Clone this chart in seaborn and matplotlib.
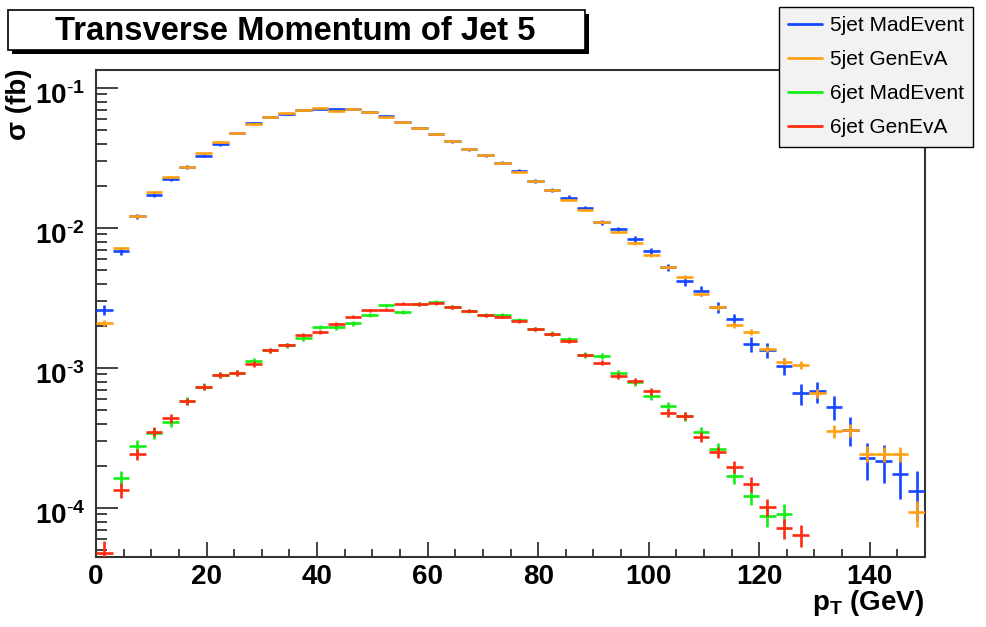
import numpy as np
import pandas as pd
import matplotlib
matplotlib.use("Agg")
import matplotlib.pyplot as plt
import matplotlib.transforms as mtransforms
import seaborn as sns
from matplotlib.lines import Line2D
from matplotlib.patches import Rectangle
from matplotlib.ticker import FixedLocator, LogLocator, FuncFormatter, MultipleLocator, NullFormatter

# ---------------- data (sigma in fb per 3 GeV bin) ----------------
bin_width = 3.0
bin_centers = np.arange(1.5, 150, bin_width)  # 50 bins, 0..150 GeV

mad5 = [2.6e-3, 6.8e-3, 1.21e-2, 1.73e-2, 2.25e-2, 2.73e-2, 3.27e-2, 3.96e-2, 4.77e-2, 5.65e-2,
        6.18e-2, 6.49e-2, 6.93e-2, 7.05e-2, 7.08e-2, 7.08e-2, 6.70e-2, 6.31e-2, 5.75e-2, 5.18e-2,
        4.69e-2, 4.16e-2, 3.65e-2, 3.30e-2, 2.93e-2, 2.57e-2, 2.17e-2, 1.88e-2, 1.65e-2, 1.39e-2,
        1.10e-2, 9.8e-3, 8.34e-3, 6.85e-3, 5.24e-3, 4.16e-3, 3.56e-3, 2.71e-3, 2.23e-3, 1.48e-3,
        1.34e-3, 1.04e-3, 6.6e-4, 6.8e-4, 5.3e-4, 3.6e-4, 2.26e-4, 2.17e-4, 1.74e-4, 1.32e-4]

gen5 = [2.1e-3, 7.2e-3, 1.21e-2, 1.82e-2, 2.31e-2, 2.73e-2, 3.41e-2, 4.11e-2, 4.77e-2, 5.51e-2,
        6.18e-2, 6.67e-2, 6.93e-2, 7.16e-2, 6.89e-2, 7.08e-2, 6.70e-2, 6.18e-2, 5.72e-2, 5.18e-2,
        4.69e-2, 4.16e-2, 3.65e-2, 3.30e-2, 2.93e-2, 2.53e-2, 2.17e-2, 1.88e-2, 1.59e-2, 1.34e-2,
        1.10e-2, 9.4e-3, 7.78e-3, 6.41e-3, 5.24e-3, 4.49e-3, 3.38e-3, 2.71e-3, 2.03e-3, 1.80e-3,
        1.37e-3, 1.11e-3, 1.05e-3, 6.6e-4, 3.55e-4, 3.6e-4, 2.45e-4, 2.43e-4, 2.43e-4, 9.3e-5]

mad6 = [np.nan, 1.63e-4, 2.79e-4, 3.42e-4, 4.11e-4, 5.78e-4, 7.36e-4, 8.95e-4, 9.2e-4, 1.12e-3,
        1.34e-3, 1.46e-3, 1.63e-3, 1.96e-3, 1.95e-3, 2.08e-3, 2.40e-3, 2.80e-3, 2.52e-3, 2.87e-3,
        2.98e-3, 2.73e-3, 2.57e-3, 2.38e-3, 2.40e-3, 2.19e-3, 1.90e-3, 1.76e-3, 1.60e-3, 1.24e-3,
        1.22e-3, 9.2e-4, 7.9e-4, 6.28e-4, 5.38e-4, 4.54e-4, 3.51e-4, 2.66e-4, 1.70e-4, 1.22e-4,
        8.8e-5, 9.1e-5]

gen6 = [4.8e-5, 1.34e-4, 2.43e-4, 3.51e-4, 4.37e-4, 5.78e-4, 7.36e-4, 8.95e-4, 9.2e-4, 1.07e-3,
        1.34e-3, 1.46e-3, 1.72e-3, 1.82e-3, 2.05e-3, 2.33e-3, 2.58e-3, 2.61e-3, 2.88e-3, 2.87e-3,
        2.90e-3, 2.73e-3, 2.57e-3, 2.38e-3, 2.33e-3, 2.15e-3, 1.90e-3, 1.76e-3, 1.56e-3, 1.24e-3,
        1.09e-3, 8.8e-4, 8.07e-4, 6.8e-4, 4.8e-4, 4.54e-4, 3.23e-4, 2.51e-4, 1.97e-4, 1.48e-4,
        1.02e-4, 7.2e-5, 6.4e-5]

series_labels = ["5jet MadEvent", "5jet GenEvA", "6jet MadEvent", "6jet GenEvA"]
series_values = [mad5, gen5, mad6, gen6]
series_colors = ["#1447ff", "#ffa010", "#14ee14", "#ff2a10"]
event_weights = [2.0e-5, 4.0e-6, 2.5e-6, 2.0e-6]   # per-event weight -> Poisson error bars

x_ticks = [0, 20, 40, 60, 80, 100, 120, 140]
y_ticks = [1e-4, 1e-3, 1e-2, 1e-1]

# ---------------- style ----------------
sns.set_theme(style="white")
plt.rcParams["font.family"] = ["Liberation Sans", "DejaVu Sans"]
plt.rcParams["mathtext.fontset"] = "custom"
plt.rcParams["mathtext.rm"] = "Liberation Sans"
plt.rcParams["mathtext.bf"] = "Liberation Sans:bold"
plt.rcParams["mathtext.it"] = "Liberation Sans:italic"
plt.rcParams["text.color"] = "black"
plt.rcParams["xtick.color"] = "black"
plt.rcParams["ytick.color"] = "black"
plt.rcParams["xtick.labelcolor"] = "black"
plt.rcParams["ytick.labelcolor"] = "black"

W, H = 986, 627
fig = plt.figure(figsize=(W / 100, H / 100), dpi=100)
fig.patch.set_facecolor("white")

def fx(px):
    return px / W

def fy(py):
    return 1 - py / H

ax = fig.add_axes([fx(96), fy(557), fx(925) - fx(96), fy(70) - fy(557)])
ax.set_facecolor("white")

frames = []
for lab, vals in zip(series_labels, series_values):
    v = np.array(vals, dtype=float)
    frames.append(pd.DataFrame({"pt": bin_centers[:len(v)], "sigma": v, "sample": lab}))
df = pd.concat(frames, ignore_index=True)

for lab, col, w in zip(series_labels, series_colors, event_weights):
    d = df[(df["sample"] == lab) & df["sigma"].notna()]
    err = np.sqrt(w * d["sigma"].values)
    ax.errorbar(d["pt"], d["sigma"], xerr=bin_width / 2, yerr=err, fmt="none",
                ecolor=col, elinewidth=1.9, capsize=0, zorder=3)

ax.set_yscale("log")
ax.set_xlim(0, 150)
ax.set_ylim(10 ** (-1 - (557 - 88) / 140), 10 ** (-1 + (88 - 70) / 140))

ax.xaxis.set_major_locator(FixedLocator(x_ticks))
ax.xaxis.set_minor_locator(MultipleLocator(5))
ax.yaxis.set_major_locator(FixedLocator(y_ticks))
ax.yaxis.set_minor_locator(LogLocator(base=10, subs=np.arange(2, 10), numticks=20))
ax.yaxis.set_minor_formatter(NullFormatter())
ax.yaxis.set_major_formatter(FuncFormatter(
    lambda v, p: r"$\mathbf{10^{\text{-}%d}}$" % abs(int(round(np.log10(v))))))
ax.xaxis.set_major_formatter(FuncFormatter(lambda v, p: "%d" % v))

ax.tick_params(axis="both", which="both", direction="in", color="#222222", width=1.2,
               top=False, right=False, bottom=True, left=True)
ax.tick_params(axis="y", which="major", length=16, pad=8, labelsize=20)
ax.tick_params(axis="y", which="minor", length=8)
ax.tick_params(axis="x", which="major", length=11, pad=5, labelsize=20)
ax.tick_params(axis="x", which="minor", length=5.5)
for lbl in ax.get_xticklabels():
    lbl.set_fontweight("bold")
shift = mtransforms.ScaledTranslation(0, -5 / 100, fig.dpi_scale_trans)
for lbl in ax.get_yticklabels():
    lbl.set_transform(lbl.get_transform() + shift)
for s in ax.spines.values():
    s.set_color("#333333")
    s.set_linewidth(1.5)
ax.set_xlabel("")
ax.set_ylabel("")

# axis titles (ROOT style: at the ends of the axes)
fig.text(fx(924), fy(588), r"$\mathbf{p_T}$ (GeV)", ha="right", va="top",
         fontsize=20, fontweight="bold", color="black")
fig.text(fx(19), fy(68), "σ (fb)", ha="center", va="top", rotation=90,
         fontsize=20, fontweight="bold", color="black")

# title box with shadow
fig.patches.append(Rectangle((fx(12), fy(54)), fx(577), fy(14) - fy(54), transform=fig.transFigure,
                             facecolor="black", edgecolor="none", zorder=5))
fig.patches.append(Rectangle((fx(8), fy(50)), fx(577), fy(10) - fy(50), transform=fig.transFigure,
                             facecolor="white", edgecolor="black", linewidth=1.2, zorder=6))
fig.text(fx(295), fy(31), "Transverse Momentum of Jet 5", ha="center", va="center",
         fontsize=23.6, fontweight="bold", color="black", zorder=7)

# legend
handles = [Line2D([0], [0], color=c, lw=2.0) for c in series_colors]
leg = fig.legend(handles, series_labels, loc="upper right",
                 bbox_to_anchor=(fx(973), fy(7)), bbox_transform=fig.transFigure,
                 borderaxespad=0, frameon=True, fancybox=False, shadow=False,
                 facecolor="#f2f2f2", edgecolor="black", framealpha=1,
                 fontsize=15, handlelength=1.65, handletextpad=0.35,
                 labelspacing=0.72, borderpad=0.45, labelcolor="black")
leg.get_frame().set_linewidth(1.0)
leg.set_zorder(10)

fig.savefig("out.png", dpi=100)
